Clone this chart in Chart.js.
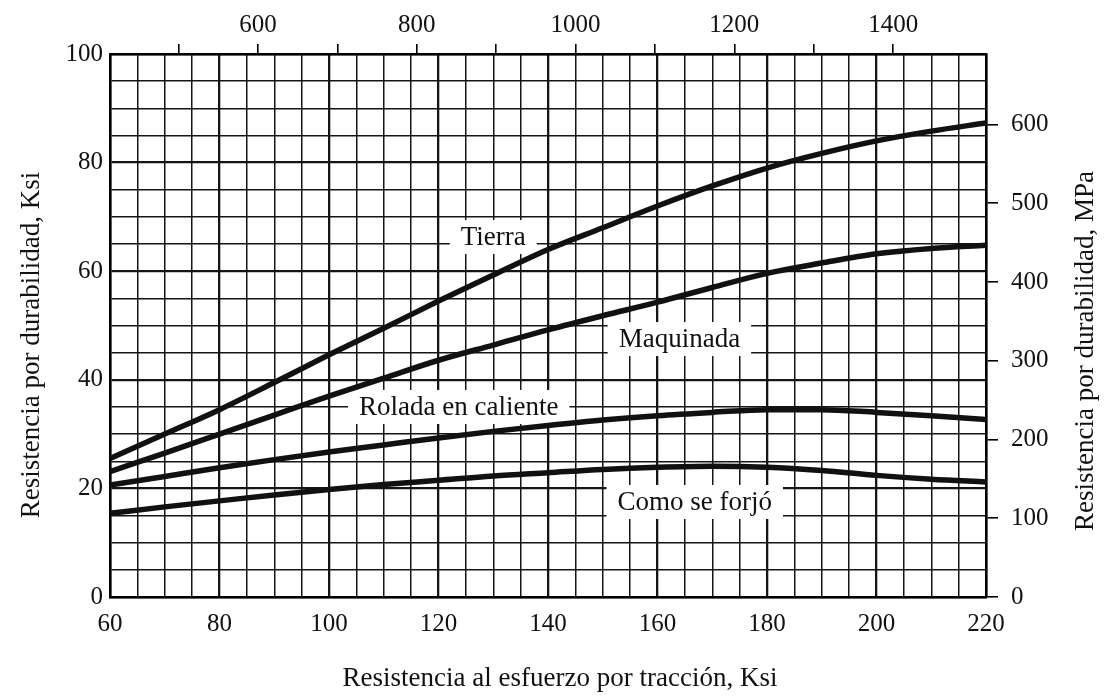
<!DOCTYPE html>
<html>
<head>
<meta charset="utf-8">
<script src="https://cdn.jsdelivr.net/npm/chart.js@4.4.1/dist/chart.umd.min.js"></script>
<style>
html, body { margin: 0; padding: 0; background: #fff; }
#wrap { width: 1109px; height: 698px; }
</style>
</head>
<body>
<div id="wrap"><canvas id="grafica" width="1109" height="698"></canvas></div>
<script>
// Resistencia por durabilidad vs resistencia a la tracción (valores en Ksi)
const traccionKsi = [60, 70, 80, 90, 100, 110, 120, 130, 140, 150, 160, 170, 180, 190, 200, 210, 220];
const tierra     = [25.5, 30, 34.5, 39.5, 44.6, 49.5, 54.5, 59.3, 64, 68, 72, 75.7, 79, 81.7, 84, 85.8, 87.3];
const maquinada  = [23.1, 26.5, 30, 33.5, 37, 40.3, 43.6, 46.4, 49.2, 51.8, 54.3, 57, 59.6, 61.5, 63.2, 64.2, 64.8];
const rolada     = [20.6, 22.2, 23.8, 25.3, 26.7, 28, 29.3, 30.5, 31.6, 32.6, 33.4, 34, 34.5, 34.5, 34, 33.4, 32.7];
const forjado    = [15.4, 16.6, 17.7, 18.8, 19.8, 20.7, 21.5, 22.3, 22.9, 23.5, 23.9, 24.1, 23.9, 23.3, 22.4, 21.7, 21.2];

// Etiquetas de los ejes
const etiquetasX   = [60, 80, 100, 120, 140, 160, 180, 200, 220];
const etiquetasY   = [0, 20, 40, 60, 80, 100];
const etiquetasMPaSup = [600, 800, 1000, 1200, 1400];
const marcasMPaSup = [500, 600, 700, 800, 900, 1000, 1100, 1200, 1300, 1400];
const etiquetasMPaDer = [0, 100, 200, 300, 400, 500, 600];

const KSI_A_MPA = 6.895;

// Rótulos de cada curva (en unidades de datos)
const rotulos = [
    { texto: 'Tierra', x: 130, y: 66.3 },
    { texto: 'Maquinada', x: 164, y: 47.5 },
    { texto: 'Rolada en caliente', x: 123.7, y: 35.0 },
    { texto: 'Como se forjó', x: 166.8, y: 17.5 }
];

const FUENTE = '"Liberation Serif", "Times New Roman", serif';
const NEGRO = '#111';

function puntos(valores) {
    return traccionKsi.map((x, i) => ({ x: x, y: valores[i] }));
}

function serie(valores) {
    return {
        data: puntos(valores),
        borderColor: NEGRO,
        borderWidth: 5.5,
        pointRadius: 0,
        fill: false,
        cubicInterpolationMode: 'monotone',
        xAxisID: 'x',
        yAxisID: 'y'
    };
}

function pasos(min, max, paso) {
    const r = [];
    for (let v = min; v <= max + 1e-9; v += paso) r.push({ value: v });
    return r;
}

const grosorGrid = function(ctx) {
    return (ctx.tick && ctx.tick.value % 20 === 0) ? 2.3 : 1.5;
};

// Plugin: fondo, rótulos con caja blanca y títulos de ejes
const pluginTextos = {
    id: 'textos',
    beforeDraw(chart) {
        const ctx = chart.ctx;
        ctx.save();
        ctx.fillStyle = '#fff';
        ctx.fillRect(0, 0, chart.width, chart.height);
        ctx.restore();
    },
    beforeDatasetsDraw(chart) {
        const { ctx, scales } = chart;
        ctx.save();
        ctx.font = '27px ' + FUENTE;
        ctx.textAlign = 'center';
        ctx.textBaseline = 'middle';
        rotulos.forEach(r => {
            const px = scales.x.getPixelForValue(r.x);
            const py = scales.y.getPixelForValue(r.y);
            const w = ctx.measureText(r.texto).width + 22;
            ctx.fillStyle = '#fff';
            ctx.fillRect(px - w / 2, py - 17, w, 34);
            ctx.fillStyle = NEGRO;
            ctx.fillText(r.texto, px, py + 1);
        });
        ctx.restore();
    },
    afterDraw(chart) {
        const ctx = chart.ctx;
        ctx.save();
        ctx.font = '27px ' + FUENTE;
        ctx.fillStyle = NEGRO;
        ctx.textAlign = 'center';
        ctx.textBaseline = 'middle';
        // eje inferior
        ctx.fillText('Resistencia al esfuerzo por tracción, Ksi', 560, 679);
        // eje izquierdo
        ctx.save();
        ctx.translate(32, 345);
        ctx.rotate(-Math.PI / 2);
        ctx.fillText('Resistencia por durabilidad, Ksi', 0, 0);
        ctx.restore();
        // eje derecho
        ctx.save();
        ctx.translate(1086, 351);
        ctx.rotate(-Math.PI / 2);
        ctx.fillText('Resistencia por durabilidad, MPa', 0, 0);
        ctx.restore();
        ctx.restore();
    }
};

const fuenteTicks = { family: FUENTE, size: 25 };

new Chart(document.getElementById('grafica').getContext('2d'), {
    type: 'line',
    data: {
        datasets: [serie(tierra), serie(maquinada), serie(rolada), serie(forjado)]
    },
    options: {
        responsive: false,
        devicePixelRatio: 1,
        animation: false,
        layout: { padding: 0 },
        plugins: {
            legend: { display: false },
            tooltip: { enabled: false }
        },
        scales: {
            x: {
                type: 'linear',
                position: 'bottom',
                min: 60,
                max: 220,
                afterBuildTicks: s => { s.ticks = pasos(60, 220, 5); },
                afterFit: s => { s.height = 101; },
                ticks: {
                    autoSkip: false,
                    maxRotation: 0,
                    padding: 12,
                    color: NEGRO,
                    font: fuenteTicks,
                    callback: v => etiquetasX.includes(v) ? String(v) : ''
                },
                grid: { color: '#151515', lineWidth: grosorGrid, drawTicks: false },
                border: { display: true, color: '#000', width: 2.5 }
            },
            y: {
                type: 'linear',
                position: 'left',
                min: 0,
                max: 100,
                afterBuildTicks: s => { s.ticks = pasos(0, 100, 5); },
                afterFit: s => { s.width = 110; },
                ticks: {
                    autoSkip: false,
                    padding: 7,
                    color: NEGRO,
                    font: fuenteTicks,
                    callback: v => etiquetasY.includes(v) ? String(v) : ''
                },
                grid: { color: '#151515', lineWidth: grosorGrid, drawTicks: false },
                border: { display: true, color: '#000', width: 2.5 }
            },
            xMPa: {
                type: 'linear',
                position: 'top',
                min: 60 * KSI_A_MPA,
                max: 220 * KSI_A_MPA,
                afterBuildTicks: s => { s.ticks = marcasMPaSup.map(v => ({ value: v })); },
                afterFit: s => { s.height = 54; },
                ticks: {
                    autoSkip: false,
                    maxRotation: 0,
                    padding: 4,
                    color: NEGRO,
                    font: fuenteTicks,
                    callback: v => etiquetasMPaSup.includes(v) ? String(v) : ''
                },
                grid: { drawOnChartArea: false, tickLength: 10, tickColor: '#000', lineWidth: 1.6 },
                border: { display: true, color: '#000', width: 2.5 }
            },
            yMPa: {
                type: 'linear',
                position: 'right',
                min: 0,
                max: 100 * KSI_A_MPA,
                afterBuildTicks: s => { s.ticks = etiquetasMPaDer.map(v => ({ value: v })); },
                afterFit: s => { s.width = 123; },
                ticks: {
                    autoSkip: false,
                    padding: 13,
                    color: NEGRO,
                    font: fuenteTicks
                },
                grid: { drawOnChartArea: false, tickLength: 12, tickColor: '#000', lineWidth: 1.6 },
                border: { display: true, color: '#000', width: 2.5 }
            }
        }
    },
    plugins: [pluginTextos]
});
</script>
</body>
</html>
